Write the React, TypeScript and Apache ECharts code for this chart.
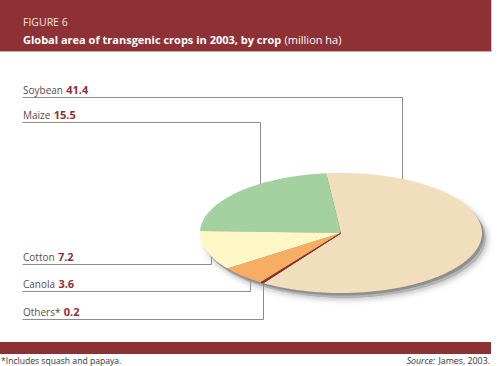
import React, { useEffect, useRef } from "react";
import * as echarts from "echarts";

// ---- data ----
const crops = ["Soybean", "Maize", "Cotton", "Canola", "Others*"];
const areas = [41.4, 15.5, 7.2, 3.6, 0.2];
// clockwise drawing order starting at the top boundary
const drawOrder = [0, 4, 3, 2, 1];

// ---- styles / layout ----
const sliceColors = ["#F0DEBC", "#A3D1A0", "#FFF8C6", "#F8AE62", "#8B2A2E"];
const labelLineY = [97.5, 122.5, 264.5, 291.5, 319.5];
const leaderX = [402.5, 260.5, 211.5, 250.5, 263.5];
const CX = 341;
const CY = 233;
const RX = 141;
const RY = 60;
const START_ANGLE = 96;
const RED = "#8E3135";
const FONT = "'Open Sans', 'Noto Sans', sans-serif";

export default function App() {
  const ref = useRef<HTMLDivElement>(null);

  useEffect(() => {
    if (!ref.current) return;
    const chart = echarts.init(ref.current, null, { renderer: "svg" });
    const total = areas.reduce((a, b) => a + b, 0);
    const starts: number[] = new Array(areas.length).fill(0);
    let acc = 0;
    drawOrder.forEach((idx) => {
      starts[idx] = acc;
      acc += areas[idx];
    });
    const data = crops.map((name, i) => ({ name, value: [starts[i], areas[i]] }));

    const option: any = {
      animation: false,
      backgroundColor: "#ffffff",
      graphic: [
        { type: "rect", z: 0, shape: { x: 0, y: 0, width: 491, height: 51 }, style: { fill: RED } },
        { type: "line", z: 0, shape: { x1: 491.5, y1: 0, x2: 491.5, y2: 52 }, style: { stroke: "#c8c8c8", lineWidth: 1 } },
        { type: "line", z: 0, shape: { x1: 0, y1: 51.5, x2: 492, y2: 51.5 }, style: { stroke: "#c9a9a9", lineWidth: 1 } },
        {
          type: "text", z: 1, x: 23, y: 22,
          style: { text: "FIGURE 6", fill: "#f3e4e4", font: `10.5px ${FONT}`, verticalAlign: "middle" },
        },
        {
          type: "text", z: 1, x: 23, y: 39,
          style: {
            text: "{b|Global area of transgenic crops in 2003, by crop} {n|(million ha)}",
            verticalAlign: "middle",
            rich: {
              b: { fill: "#ffffff", font: `bold 11px ${FONT}` },
              n: { fill: "#ffffff", font: `11px ${FONT}` },
            },
          },
        },
        {
          type: "ellipse", z: 0,
          shape: { cx: CX + 4, cy: CY + 5, rx: RX, ry: RY },
          style: { fill: "#b4b4b4", shadowBlur: 6, shadowColor: "rgba(0,0,0,0.3)", shadowOffsetX: 1, shadowOffsetY: 1 },
        },
        {
          type: "ellipse", z: 0,
          shape: { cx: CX + 2, cy: CY + 2.5, rx: RX, ry: RY },
          style: { fill: "#8f8f8f" },
        },
        { type: "rect", z: 0, shape: { x: 0, y: 342, width: 491, height: 12 }, style: { fill: RED } },
        {
          type: "text", z: 1, x: 1, y: 361,
          style: { text: "*Includes squash and papaya.", fill: "#333", font: `8.6px ${FONT}`, verticalAlign: "middle" },
        },
        {
          type: "text", z: 1, x: 490, y: 361,
          style: {
            text: "{i|Source:} {n|James, 2003.}",
            align: "right",
            verticalAlign: "middle",
            rich: {
              i: { fill: "#333", font: `italic 8.8px ${FONT}` },
              n: { fill: "#333", font: `8.8px ${FONT}` },
            },
          },
        },
      ],
      series: [
        {
          type: "custom",
          coordinateSystem: "none",
          data,
          renderItem: (params: any, api: any) => {
            const i = params.dataIndex;
            const s = api.value(0);
            const v = api.value(1);
            const a0 = START_ANGLE - (s / total) * 360;
            const a1 = START_ANGLE - ((s + v) / total) * 360;
            const pts: number[][] = [[CX, CY]];
            const n = Math.max(2, Math.ceil(Math.abs(a0 - a1)) + 1);
            for (let k = 0; k < n; k++) {
              const a = ((a0 + ((a1 - a0) * k) / (n - 1)) * Math.PI) / 180;
              pts.push([CX + RX * Math.cos(a), CY - RY * Math.sin(a)]);
            }
            const lx = leaderX[i];
            const ly = labelLineY[i];
            const dx = (lx - CX) / RX;
            const h = RY * Math.sqrt(Math.max(0, 1 - dx * dx));
            const ey = ly < CY ? CY - h : CY + h;
            return {
              type: "group",
              children: [
                {
                  type: "polygon",
                  shape: { points: pts },
                  style: {
                    fill: sliceColors[i],
                    stroke: i === 4 ? sliceColors[i] : null,
                    lineWidth: 1,
                  },
                },
                {
                  type: "polyline",
                  shape: { points: [[22.5, ly], [lx, ly], [lx, ey]] },
                  style: { stroke: "#8c8c8c", lineWidth: 1, fill: null },
                },
                {
                  type: "text",
                  x: 23,
                  y: ly - 8,
                  style: {
                    text: `{n|${crops[i]}} {v|${areas[i].toFixed(1)}}`,
                    verticalAlign: "middle",
                    rich: {
                      n: { fill: "#5e4a4a", font: `10px ${FONT}` },
                      v: { fill: RED, font: `bold 11px ${FONT}` },
                    },
                  },
                },
              ],
            };
          },
        },
      ],
    };
    chart.setOption(option);
    return () => chart.dispose();
  }, []);

  return (
    <div
      ref={ref}
      style={{ position: "absolute", left: 0, top: 0, width: 500, height: 366 }}
    />
  );
}
